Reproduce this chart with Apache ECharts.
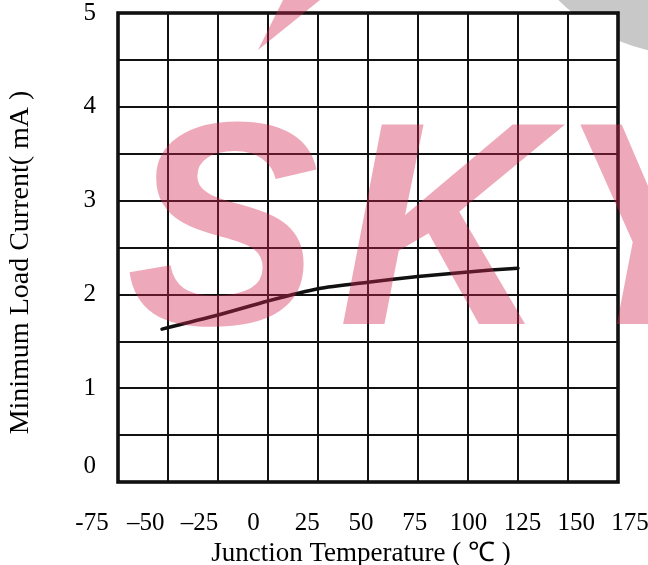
<!DOCTYPE html>
<html>
<head>
<meta charset="utf-8">
<script src="https://cdn.jsdelivr.net/npm/echarts@6/dist/echarts.min.js"></script>
<style>html,body{margin:0;padding:0;background:#fff}#c{width:648px;height:565px}</style>
</head>
<body>
<div id="c"></div>
<script>
var temps = [-53, -25, 0, 25, 50, 75, 100, 125];
var currents = [1.63, 1.78, 1.93, 2.06, 2.13, 2.19, 2.24, 2.28];
var xTickLabels = ['-75', '\u201350', '\u201325', '0', '25', '50', '75', '100', '125', '150', '175'];
var yTickLabels = ['0', '1', '2', '3', '4', '5'];
var xTitle = 'Junction Temperature ( \u2103 )';
var yTitle = 'Minimum Load Current( mA )';
var watermarkLetters = ['S', 'K', 'Y'];

var serif = '"Liberation Serif", "Times New Roman", serif';
var chart = echarts.init(document.getElementById('c'), null, {renderer: 'canvas'});
var pts = temps.map(function (t, i) { return [t, currents[i]]; });
var pink = 'rgba(210,40,80,0.4)';
var wmX = [126, 338, 556];
var wmFont = 'italic bold 290px "Liberation Sans", Arial, sans-serif';

var graphics = [
  {type: 'circle', z: -10, silent: true, shape: {cx: 690, cy: -130, r: 185}, style: {fill: '#c8c8c8'}},
  {type: 'polygon', zlevel: 1, z: 100, silent: true, shape: {points: [[258, 50], [283, 0], [320, 0]]}, style: {fill: pink}}
];
watermarkLetters.forEach(function (ch, i) {
  graphics.push({type: 'text', zlevel: 1, z: 100, silent: true, x: wmX[i], y: 244,
    style: {text: ch, font: wmFont, fill: pink, textAlign: 'left', verticalAlign: 'middle', textVerticalAlign: 'middle'}});
});

chart.setOption({
  animation: false,
  backgroundColor: '#fff',
  grid: [
    {left: 118, right: 30, top: 13, bottom: 83, show: true, borderColor: '#000', borderWidth: 3.5, backgroundColor: '#fff',
     containLabel: false, outerBoundsMode: 'none'},
    {left: 92, right: 18, top: 13, bottom: 83, show: false, containLabel: false, outerBoundsMode: 'none'}
  ],
  xAxis: [
    {type: 'value', gridIndex: 0, min: -75, max: 175, interval: 25,
     axisLine: {show: false}, axisTick: {show: false}, axisLabel: {show: false},
     splitLine: {show: true, lineStyle: {color: '#111', width: 2}}},
    {type: 'value', gridIndex: 1, min: -75, max: 175, interval: 25,
     axisLine: {show: false}, axisTick: {show: false}, splitLine: {show: false},
     axisLabel: {show: true, margin: 29, fontFamily: serif, fontSize: 25, color: '#000',
       formatter: function (v) { return xTickLabels[Math.round((v + 75) / 25)]; }},
     name: xTitle, nameLocation: 'middle', nameGap: 47,
     nameTextStyle: {fontFamily: serif, fontSize: 27, color: '#000'}}
  ],
  yAxis: [
    {type: 'value', gridIndex: 0, min: 0, max: 5, interval: 0.5,
     axisLine: {show: false}, axisTick: {show: false},
     splitLine: {show: true, lineStyle: {color: '#111', width: 2}},
     axisLabel: {show: true, margin: 22, fontFamily: serif, fontSize: 25, color: '#000',
       formatter: function (v) {
         if (Math.abs(v - Math.round(v)) > 1e-6) return '';
         var s = yTickLabels[Math.round(v)];
         return v === 0 ? '{z|' + s + '}' : s;
       },
       rich: {z: {fontFamily: serif, fontSize: 25, color: '#000', padding: [0, 0, 32, 0]}}},
     name: yTitle, nameLocation: 'middle', nameGap: 83, nameRotate: 90,
     nameTextStyle: {fontFamily: serif, fontSize: 28, color: '#000', padding: [0, 30, 0, 0]}},
    {type: 'value', gridIndex: 1, min: 0, max: 5, show: false}
  ],
  series: [{
    type: 'line', xAxisIndex: 0, yAxisIndex: 0, data: pts, smooth: 0.25,
    showSymbol: false, symbol: 'none',
    lineStyle: {color: '#111', width: 3.5, cap: 'round'}, z: 5
  }],
  graphic: graphics
});
</script>
</body>
</html>
